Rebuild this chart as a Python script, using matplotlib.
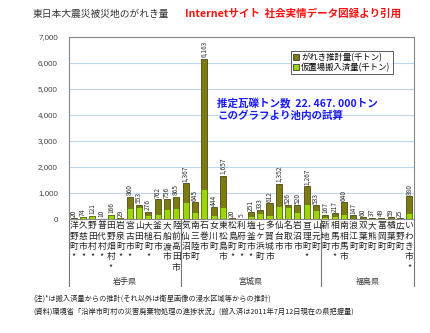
import matplotlib
matplotlib.use("Agg")
import matplotlib.pyplot as plt
import matplotlib.transforms as mtransforms
from matplotlib.patches import Patch

plt.rcParams['font.family'] = ['Noto Sans CJK JP', 'DejaVu Sans']

# 市町村名, がれき推計量(千トン), 仮置場搬入済量(千トン, 目測), *印
towns = ["洋野町", "久慈市", "野田村", "普代村", "田野畑村", "岩泉町", "宮古市", "山田町",
         "大槌町", "釜石市", "大船渡市", "陸前高田市",
         "気仙沼市", "南三陸町", "石巻市", "女川町", "東松島市", "松島町", "利府町", "塩釜市",
         "七ヶ浜町", "多賀城市", "仙台市", "名取市", "岩沼市", "亘理町", "山元町",
         "新地町", "相馬市", "南相馬市", "浪江町", "双葉町", "大熊町", "富岡町", "楢葉町",
         "広野町", "いわき市"]
total = [20, 74, 121, 10, 166, 29, 860, 553, 276, 762, 756, 865,
         1367, 645, 6163, 444, 1657, 20, 5, 251, 333, 612, 1352, 526, 520, 1267, 533,
         167, 217, 640, 147, 60, 37, 49, 59, 25, 880]
moved = [15, 65, 110, 8, 150, 20, 420, 470, 150, 190, 370, 435,
         640, 255, 1140, 155, 450, 15, 4, 110, 220, 155, 510, 450, 280, 590, 330,
         65, 115, 190, 25, 10, 5, 8, 15, 5, 245]
starred = [1, 1, 1, 1, 1, 1, 1, 0, 1, 0, 0, 0,
           0, 0, 0, 0, 0, 1, 1, 1, 0, 0, 0, 0, 0, 1, 0,
           0, 1, 0, 0, 0, 0, 0, 0, 0, 1]
prefs = ["岩手県", "宮城県", "福島県"]
pref_counts = [12, 15, 10]
yticks = [0, 1000, 2000, 3000, 4000, 5000, 6000, 7000]

DARK = "#7d7a12"
LIGHT = "#99d60a"

fig = plt.figure(figsize=(4.30, 3.33), dpi=100)
ax = fig.add_axes([0.1605, 0.3423, 0.8023, 0.5466])

x = list(range(len(towns)))
ax.bar(x, total, width=0.65, color=DARK, edgecolor="#333300", linewidth=0.5, zorder=3)
ax.bar(x, moved, width=0.65, color=LIGHT, edgecolor="#556600", linewidth=0.4, zorder=4)

for i, v in enumerate(total):
    ax.text(i, v + 60, f"{v:,}", rotation=90, ha="center", va="bottom",
            fontsize=4.8, color="#333333")

ax.set_xlim(-0.5, len(towns) - 0.5)
ax.set_ylim(0, 7000)
ax.set_yticks(yticks)
ax.set_yticklabels([f"{t:,}" for t in yticks], fontsize=5.8, color="#444444",
                   family="Liberation Sans")
ax.set_xticks([])
ax.tick_params(axis="y", length=0, pad=8)
ax.grid(axis="y", color="#bcd8f2", linewidth=0.8, zorder=0)
for s in ax.spines.values():
    s.set_color("#888888")
    s.set_linewidth(0.8)

trans = mtransforms.blended_transform_factory(ax.transData, ax.transAxes)
for i, name in enumerate(towns):
    label = "\n".join(name) + ("\n*" if starred[i] else "")
    ax.text(i, -0.012, label, transform=trans, ha="center", va="top",
            fontsize=6.3, linespacing=1.2, color="#222222")

# 県の区切り線と県名
edges = [-0.5]
for c in pref_counts:
    edges.append(edges[-1] + c)
for e in edges:
    ax.plot([e, e], [0, -0.368], transform=trans, color="#777777", lw=0.8, clip_on=False)
for k, p in enumerate(prefs):
    ax.text((edges[k] + edges[k + 1]) / 2, -0.345, p, transform=trans, ha="center",
            va="center", fontsize=5.8, color="#333333")

handles = [Patch(facecolor=DARK, edgecolor="#222222", linewidth=0.5),
           Patch(facecolor=LIGHT, edgecolor="#222222", linewidth=0.5)]
leg = ax.legend(handles, ["がれき推計量(千トン)", "仮置場搬入済量(千トン)"],
                loc="upper left", bbox_to_anchor=(0.643, 0.925), fontsize=6,
                frameon=True, fancybox=False, handlelength=0.7, handleheight=0.7,
                handletextpad=0.3, borderpad=0.25, labelspacing=0.15, borderaxespad=0)
leg.get_frame().set_edgecolor("#333333")
leg.get_frame().set_linewidth(0.7)

ax.text(0.43, 0.665, "推定瓦礫トン数  22. 467. 000トン\nこのグラフより池内の試算",
        transform=ax.transAxes, ha="left", va="top", fontsize=7.6, color="#1a1aff",
        fontweight="bold", linespacing=1.15)

fig.text(33 / 430, 1 - 14 / 333, "東日本大震災被災地のがれき量", ha="left", va="center",
         fontsize=7, color="#333333")
fig.text(185 / 430, 1 - 14 / 333, "Internetサイト  社会実情データ図録より引用", ha="left",
         va="center", fontsize=7.6, color="#ff1010", fontweight="bold")

fig.text(33 / 430, 1 - 299 / 333,
         "(注)*は搬入済量からの推計(それ以外は衛星画像の浸水区域等からの推計)",
         ha="left", va="center", fontsize=5.2, color="#222222")
fig.text(33 / 430, 1 - 312 / 333,
         "(資料)環境省「沿岸市町村の災害廃棄物処理の進捗状況」(搬入済は2011年7月12日現在の県把握量)",
         ha="left", va="center", fontsize=5.2, color="#222222")

fig.savefig("out.png", dpi=100)
